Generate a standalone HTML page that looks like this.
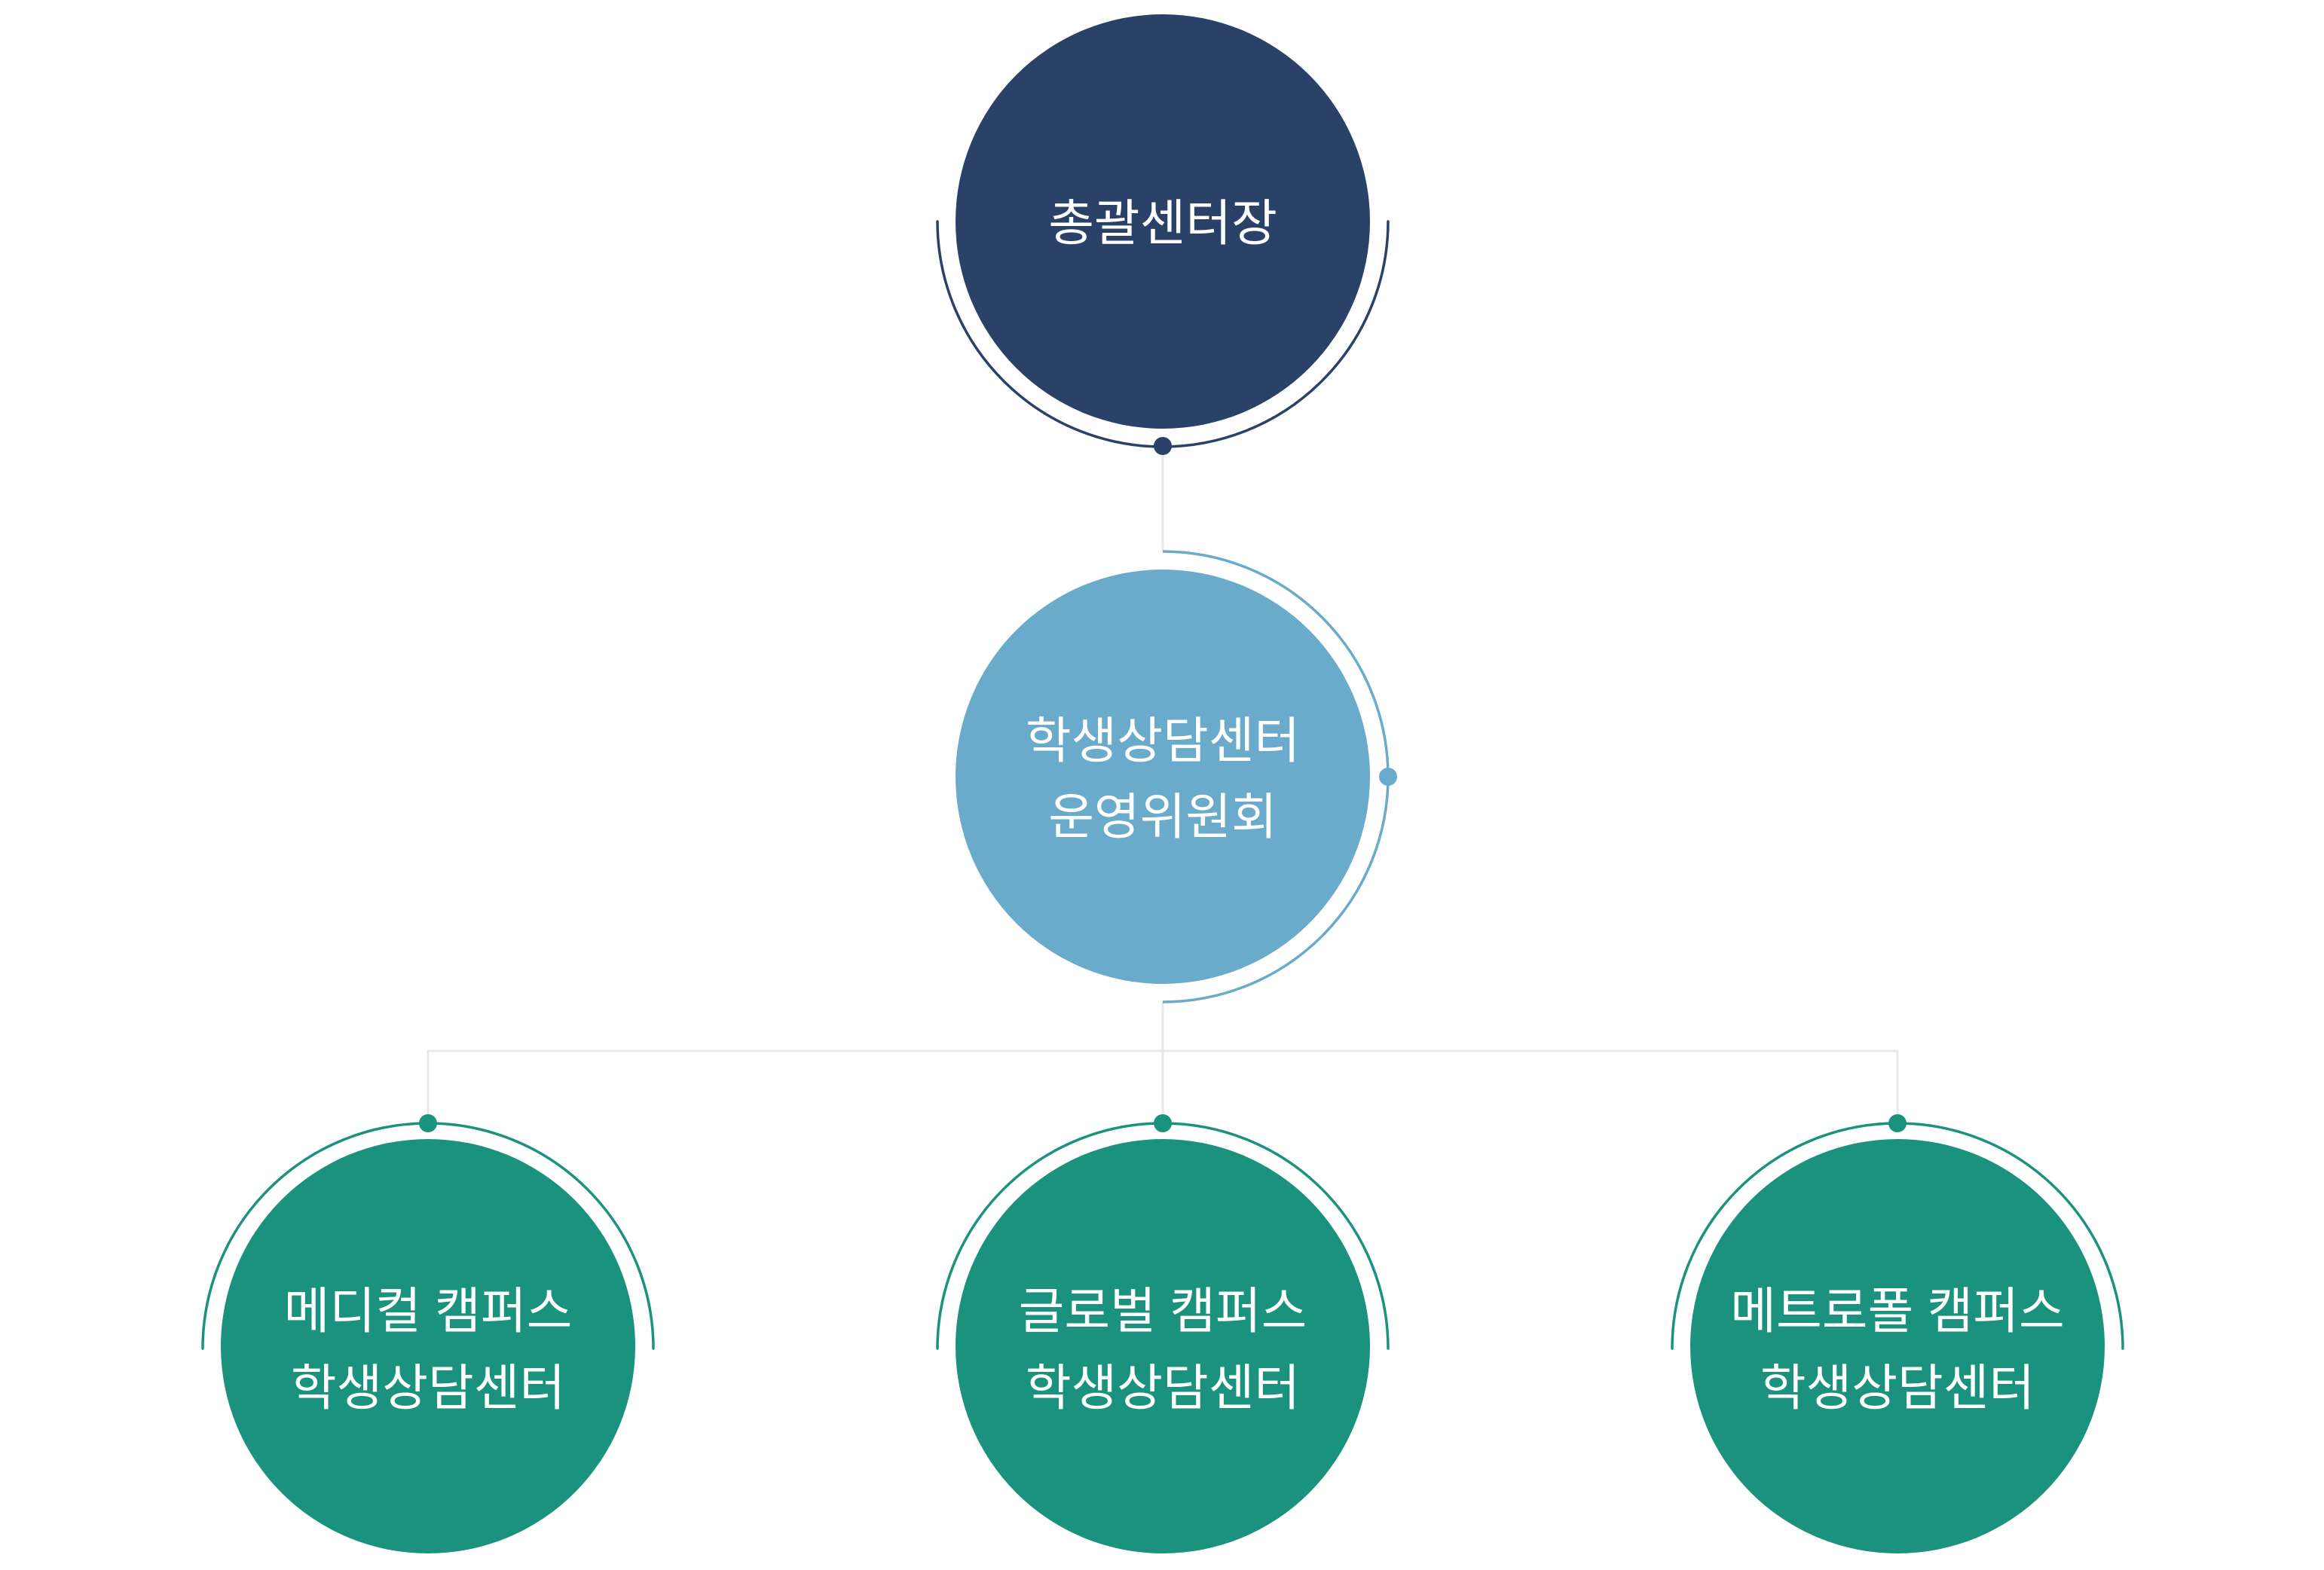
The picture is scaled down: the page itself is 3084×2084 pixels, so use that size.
<!DOCTYPE html>
<html><head><meta charset="utf-8">
<style>
html,body{margin:0;padding:0;background:#fff;}
svg{display:block;}
text{font-family:"Liberation Sans","Noto Sans CJK KR","NanumGothic",sans-serif;fill:#fff;font-size:66px;font-weight:400;text-anchor:middle;}
</style></head>
<body>
<svg width="3084" height="2084" viewBox="0 0 3084 2084" xmlns="http://www.w3.org/2000/svg">
  <g stroke="#e8e8e8" stroke-width="3" fill="none">
    <line x1="1543" y1="592" x2="1543" y2="732"/>
    <line x1="1543" y1="1330" x2="1543" y2="1491"/>
    <polyline points="568,1491 568,1395 2518,1395 2518,1491"/>
  </g>
  <path d="M1244,294 A299,299 0 0 0 1842,294" stroke="#2a4268" stroke-width="3.5" fill="none" stroke-linecap="round"/>
  <circle cx="1543" cy="294" r="275" fill="#2a4268"/>
  <circle cx="1543" cy="592" r="12" fill="#2a4268"/>
  <text x="1543" y="319">총괄센터장</text>
  <path d="M1543,732 A299,299 0 0 1 1543,1330" stroke="#6aaacb" stroke-width="3.5" fill="none"/>
  <circle cx="1543" cy="1031" r="275" fill="#6aaacb"/>
  <circle cx="1842" cy="1031" r="12" fill="#6aaacb"/>
  <text x="1543" y="1006">학생상담센터</text>
  <text x="1543" y="1107">운영위원회</text>
  <g>
    <path d="M269,1790 A299,299 0 0 1 867,1790" stroke="#1a927d" stroke-width="3.5" fill="none" stroke-linecap="round"/>
    <circle cx="568" cy="1787" r="275" fill="#1a927d"/>
    <circle cx="568" cy="1491" r="12" fill="#1a927d"/>
    <text x="568" y="1763">메디컬 캠퍼스</text>
    <text x="568" y="1865">학생상담센터</text>
  </g>
  <g>
    <path d="M1244,1790 A299,299 0 0 1 1842,1790" stroke="#1a927d" stroke-width="3.5" fill="none" stroke-linecap="round"/>
    <circle cx="1543" cy="1787" r="275" fill="#1a927d"/>
    <circle cx="1543" cy="1491" r="12" fill="#1a927d"/>
    <text x="1543" y="1763">글로벌 캠퍼스</text>
    <text x="1543" y="1865">학생상담센터</text>
  </g>
  <g>
    <path d="M2219,1790 A299,299 0 0 1 2817,1790" stroke="#1a927d" stroke-width="3.5" fill="none" stroke-linecap="round"/>
    <circle cx="2518" cy="1787" r="275" fill="#1a927d"/>
    <circle cx="2518" cy="1491" r="12" fill="#1a927d"/>
    <text x="2518" y="1763">메트로폴 캠퍼스</text>
    <text x="2518" y="1865">학생상담센터</text>
  </g>
</svg>
</body></html>
